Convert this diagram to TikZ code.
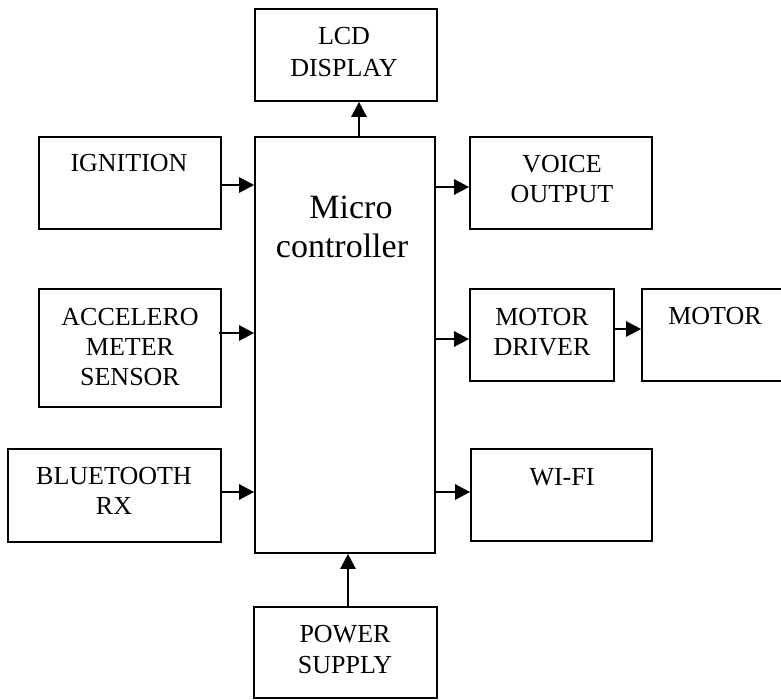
\documentclass[tikz,border=0pt]{standalone}
\usepackage{fontspec}
\setmainfont{Liberation Serif}
\usetikzlibrary{arrows.meta}
\begin{document}
\begin{tikzpicture}[x=1pt,y=-1pt,
  box/.style={draw,line width=1.7pt,inner sep=0pt},
  txt/.style={anchor=base,inner sep=0pt,font=\fontsize{26}{30}\selectfont},
  big/.style={anchor=base,inner sep=0pt,font=\fontsize{34}{39}\selectfont},
  arr/.style={line width=2.6pt,-{Triangle[length=15pt,width=15pt]}}]
\useasboundingbox (0,0) rectangle (781,700);
% boxes
\node[box,minimum width=182pt,minimum height=92pt] (lcd) at (346,55) {};
\node[box,minimum width=182pt,minimum height=92pt] (ign) at (130,183) {};
\node[box,minimum width=180pt,minimum height=416pt] (micro) at (345,345) {};
\node[box,minimum width=182pt,minimum height=92pt] (voice) at (561,183) {};
\node[box,minimum width=182pt,minimum height=118pt] (accel) at (130,348) {};
\node[box,minimum width=144pt,minimum height=92pt] (driver) at (542,335) {};
\node[box,minimum width=178pt,minimum height=92pt] (motor) at (731,335) {};
\node[box,minimum width=213pt,minimum height=93pt] (bt) at (114.5,495.5) {};
\node[box,minimum width=181pt,minimum height=92pt] (wifi) at (561.5,495) {};
\node[box,minimum width=183pt,minimum height=91pt] (power) at (345.5,652.5) {};
% texts
\node[txt] (lcdA) at (344,45) {LCD};
\node[txt] (lcdB) at (344,77) {DISPLAY};
\node[txt] (ignA) at (129,172) {IGNITION};
\node[big] (micA) at (351,219) {Micro};
\node[big] (micB) at (342,258) {controller};
\node[txt] (voiA) at (562,173) {VOICE};
\node[txt] (voiB) at (562,203) {OUTPUT};
\node[txt] (accA) at (130,325) {ACCELERO};
\node[txt] (accB) at (130,355) {METER};
\node[txt] (accC) at (130,385) {SENSOR};
\node[txt] (drvA) at (542,325) {MOTOR};
\node[txt] (drvB) at (542,355) {DRIVER};
\node[txt] (motA) at (715,324) {MOTOR};
\node[txt] (btA) at (114,484) {BLUETOOTH};
\node[txt] (btB) at (114,514) {RX};
\node[txt] (wifA) at (562,485) {WI-FI};
\node[txt] (powA) at (345,642) {POWER};
\node[txt] (powB) at (345,673) {SUPPLY};
% arrows
\draw[arr] ([xshift=14pt]micro.north) -- ([xshift=14pt]micro.north |- lcd.south);
\draw[arr] ([yshift=-2pt]ign.east) -- ([yshift=-2pt]ign.east -| micro.west);
\draw[arr] ([yshift=-4pt]voice.west -| micro.east) -- ([yshift=-4pt]voice.west);
\draw[arr] ([xshift=-3pt,yshift=15pt]accel.east) -- ([yshift=15pt]accel.east -| micro.west);
\draw[arr] ([yshift=-4pt]driver.west -| micro.east) -- ([yshift=-4pt]driver.west);
\draw[arr] ([yshift=6pt]driver.east) -- ([yshift=6pt]driver.east -| motor.west);
\draw[arr] ([yshift=3.5pt]bt.east) -- ([yshift=3.5pt]bt.east -| micro.west);
\draw[arr] ([yshift=3pt]wifi.west -| micro.east) -- ([yshift=3pt]wifi.west);
\draw[arr] ([xshift=2.5pt]power.north) -- ([xshift=2.5pt]power.north |- micro.south);
\end{tikzpicture}
\end{document}
